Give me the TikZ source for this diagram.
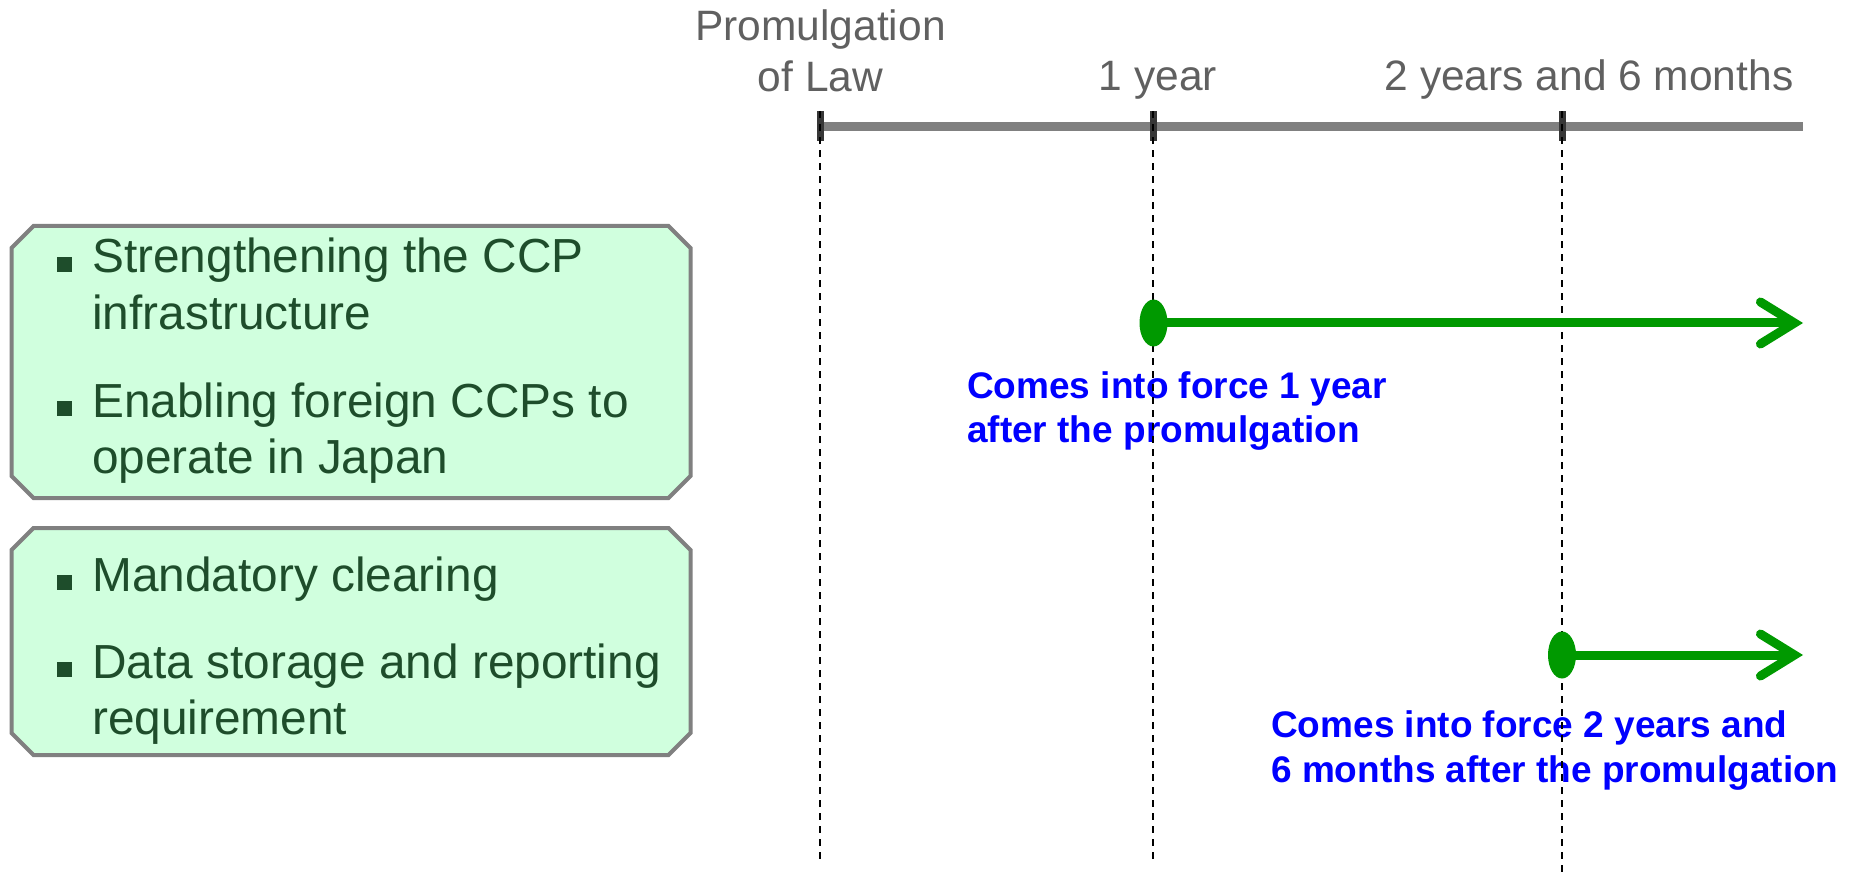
\documentclass[tikz,border=0pt]{standalone}
\usepackage{fontspec}
\setmainfont{Liberation Sans}
\usetikzlibrary{shapes.geometric,arrows.meta}
\definecolor{boxfill}{RGB}{208,255,222}
\definecolor{boxline}{RGB}{128,128,128}
\definecolor{boxtext}{RGB}{30,77,43}
\definecolor{lbl}{RGB}{96,96,96}
\definecolor{grn}{RGB}{0,153,0}
\definecolor{blu}{RGB}{0,0,255}
\definecolor{tickcol}{RGB}{55,55,55}
\newcommand{\sqbullet}{\textcolor{boxtext}{\rule[1pt]{15pt}{15pt}}\hspace{20pt}}
% chamfered box: x0 y0 x1 y1
\newcommand{\chambox}[4]{%
  \filldraw[itembox] (#1+22,#2) -- (#3-22,#2) -- (#3,#2+22) -- (#3,#4-22) -- (#3-22,#4)
    -- (#1+22,#4) -- (#1,#4-22) -- (#1,#2+22) -- cycle;}
\begin{document}
\begin{tikzpicture}[x=1pt,y=-1pt,
 itembox/.style={draw=boxline, line width=4pt, fill=boxfill, line join=miter},
 itemtext/.style={anchor=base west, inner sep=0pt, text=boxtext, font=\fontsize{47.8}{57}\selectfont},
 lbltext/.style={anchor=base, inner sep=0pt, text=lbl, font=\fontsize{42.5}{50}\selectfont},
 forcetext/.style={anchor=base west, inner sep=0pt, text=blu, font=\fontsize{37}{45}\selectfont\bfseries},
 tickmark/.style={rectangle, fill=tickcol, minimum width=7pt, minimum height=30pt, inner sep=0pt},
 guide/.style={black, line width=2pt, dash pattern=on 7pt off 6pt},
 axisline/.style={boxline, line width=8.5pt},
 startdot/.style={ellipse, fill=grn, minimum width=28pt, minimum height=47pt, inner sep=0pt},
 forcearrow/.style={grn, line width=9pt, -{Straight Barb[length=34pt, width=42pt, line cap=round]}},
]
\useasboundingbox (0,0) rectangle (1857,874);

% boxes
\chambox{11.5}{226}{690.5}{498}
\chambox{11.5}{528}{690.5}{755}

% box texts
\node[itemtext] (t1a) at (57,273) {\sqbullet Strengthening the CCP};
\node[itemtext] (t1b) at (92,330) {infrastructure};
\node[itemtext] (t2a) at (57,417) {\sqbullet Enabling foreign CCPs to};
\node[itemtext] (t2b) at (92,473) {operate in Japan};
\node[itemtext] (t3a) at (57,591) {\sqbullet Mandatory clearing};
\node[itemtext] (t4a) at (57,678) {\sqbullet Data storage and reporting};
\node[itemtext] (t4b) at (92,734) {requirement};

% timeline labels
\node[lbltext] (lp1) at (820.5,41) {Promulgation};
\node[lbltext] (lp2) at (820.5,92) {of Law};
\node[lbltext] (l1y) at (1158,91) {1 year};
\node[lbltext] (l2y) at (1589,91) {2 years and 6 months};

% timeline
\coordinate (ax0) at (820,126.5);
\coordinate (ax1) at (1803,126.5);
\draw[axisline] (ax0) -- (ax1);
\node[tickmark] (k0) at (820,126.5) {};
\node[tickmark] (k1) at (1153,126.5) {};
\node[tickmark] (k2) at (1562,126.5) {};

% blue texts
\node[forcetext] (f1a) at (967,398) {Comes into force 1 year};
\node[forcetext] (f1b) at (967,442) {after the promulgation};
\node[forcetext] (f2a) at (1271,737) {Comes into force 2 years and};
\node[forcetext] (f2b) at (1271,782) {6 months after the promulgation};

% guides
\coordinate (g0) at (820,860);
\coordinate (g1) at (1153,860);
\coordinate (g2) at (1562,874);
\draw[guide] (k0.north) -- (g0);
\draw[guide] (k1.north) -- (g1);
\draw[guide] (k2.north) -- (g2);

% arrows
\node[startdot] (d1) at (1153.5,323) {};
\coordinate (e1) at (1803,323);
\draw[forcearrow] (d1.center) -- (e1);
\node[startdot] (d2) at (1562,655) {};
\coordinate (e2) at (1803,655);
\draw[forcearrow] (d2.center) -- (e2);
\end{tikzpicture}
\end{document}
